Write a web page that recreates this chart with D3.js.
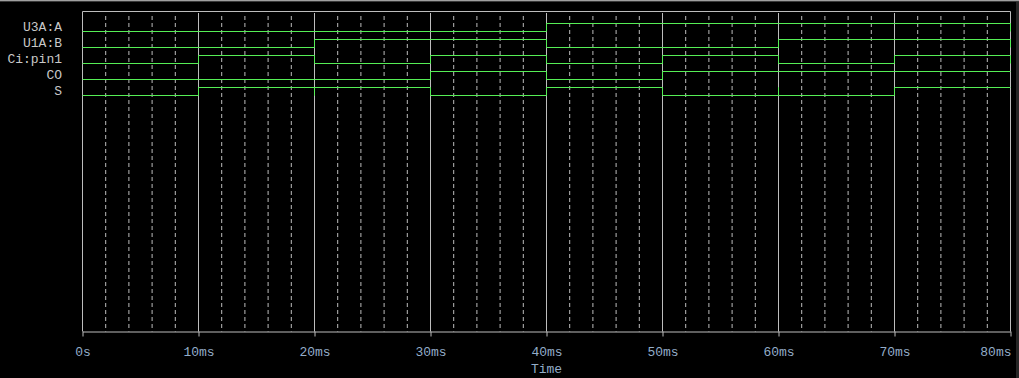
<!DOCTYPE html>
<html>
<head>
<meta charset="utf-8">
<script src="https://cdn.jsdelivr.net/npm/d3@7"></script>
<style>
  html, body { margin: 0; padding: 0; background: #000; }
  svg { display: block; }
</style>
</head>
<body>
<script>
/********************************************************/
// Signal names, transition times (ms) and logic levels
const signalNames = ["U3A:A", "U1A:B", "Ci:pin1", "CO", "S"];
const times = [0, 10, 20, 30, 40, 50, 60, 70, 80];
const sigA = [0, 0, 0, 0, 1, 1, 1, 1, 0];
const sigB = [0, 0, 1, 1, 0, 0, 1, 1, 0];
const sigCi = [0, 1, 0, 1, 0, 1, 0, 1, 0];
const sigCO = [0, 0, 0, 1, 0, 1, 1, 1, 1];
const sigS = [0, 1, 1, 0, 1, 0, 0, 1, 1];
// zero-width glitches: [signal, time, level]
const glitches = [["S", 20, 0], ["S", 60, 1]];
// axis ticks
const majorTicks = [0, 10, 20, 30, 40, 50, 60, 70, 80];
const majorLabels = ["0s", "10ms", "20ms", "30ms", "40ms", "50ms", "60ms", "70ms", "80ms"];
const minorTicks = [2, 4, 6, 8, 12, 14, 16, 18, 22, 24, 26, 28, 32, 34, 36, 38,
  42, 44, 46, 48, 52, 54, 56, 58, 62, 64, 66, 68, 72, 74, 76, 78];
/********************************************************/
const svgWidth = 1019;
const svgHeight = 378;

const plot = { left: 82.5, right: 1010.5, top: 11.5, bottom: 331.5 };
const rowTop = 31.5;
const rowBottom = 95.5;
const highStep = 8;

const gridColor = "#bdbdbd";
const traceColor = "#55ee55";
const font = "'Liberation Mono', 'Courier New', monospace";

const svg = d3.select("body").append("svg")
  .attr("width", svgWidth)
  .attr("height", svgHeight);

svg.append("rect").attr("width", svgWidth).attr("height", svgHeight).attr("fill", "#000");

// window frame bits
svg.append("rect").attr("x", 0).attr("y", 0).attr("width", svgWidth).attr("height", 1).attr("fill", "#a0a0a0");
svg.append("rect").attr("x", 0).attr("y", 1).attr("width", svgWidth).attr("height", 1).attr("fill", "#3a3a3a");
svg.append("rect").attr("x", 1016).attr("y", 2).attr("width", 3).attr("height", svgHeight).attr("fill", "#262626");

/********************************************************/
const x = d3.scaleLinear().domain([0, 80]).range([plot.left, plot.right]);
const rowY = d3.scalePoint().domain(signalNames).range([rowTop, rowBottom]);
const levelY = (name, v) => rowY(name) - v * highStep;

// plot frame (top + left)
svg.append("line")
  .attr("x1", plot.left).attr("x2", plot.right)
  .attr("y1", plot.top).attr("y2", plot.top)
  .attr("stroke", gridColor);
svg.append("line")
  .attr("x1", plot.left).attr("x2", plot.left)
  .attr("y1", plot.top).attr("y2", plot.bottom)
  .attr("stroke", gridColor);

// dashed minor grid
svg.append("g").selectAll("line")
  .data(minorTicks)
  .enter()
  .append("line")
  .attr("x1", (d) => x(d)).attr("x2", (d) => x(d))
  .attr("y1", 16).attr("y2", plot.bottom)
  .attr("stroke", gridColor)
  .attr("stroke-dasharray", "4,3");

// solid major grid
svg.append("g").selectAll("line")
  .data(majorTicks.slice(1))
  .enter()
  .append("line")
  .attr("x1", (d) => x(d)).attr("x2", (d) => x(d))
  .attr("y1", (d) => (d === 80 ? plot.top : 13))
  .attr("y2", plot.bottom)
  .attr("stroke", gridColor);

// bottom axis
const bottomAxis = d3.axisBottom(x)
  .tickValues(majorTicks)
  .tickFormat((d, i) => majorLabels[i])
  .tickSize(5)
  .tickSizeOuter(0)
  .tickPadding(10);

const axisG = svg.append("g")
  .attr("transform", `translate(0, ${plot.bottom})`)
  .call(bottomAxis);
axisG.select(".domain").attr("stroke", gridColor);
axisG.selectAll(".tick line").attr("stroke", gridColor);
axisG.selectAll(".tick text")
  .attr("fill", "#93adc9")
  .attr("font-family", font)
  .attr("font-size", "13px")
  .attr("text-anchor", (d) => (d === 80 ? "end" : "middle"))
  .attr("dx", (d) => (d === 80 ? "0.5" : "0"));

svg.append("text")
  .attr("x", x(40))
  .attr("y", 373)
  .attr("text-anchor", "middle")
  .attr("fill", "#93adc9")
  .attr("font-family", font)
  .attr("font-size", "13px")
  .text("Time");

/********************************************************/
// signal traces
const levels = { "U3A:A": sigA, "U1A:B": sigB, "Ci:pin1": sigCi, "CO": sigCO, "S": sigS };

function tracePoints(name) {
  const pts = [];
  times.forEach((t, i) => {
    const g = glitches.find((gl) => gl[0] === name && gl[1] === t);
    if (g) pts.push([t, g[2]]);
    pts.push([t, levels[name][i]]);
  });
  return pts;
}

const line = d3.line()
  .x((d) => x(d[0]))
  .curve(d3.curveStepAfter);

signalNames.forEach((name) => {
  svg.append("path")
    .datum(tracePoints(name))
    .attr("d", line.y((d) => levelY(name, d[1])))
    .attr("fill", "none")
    .attr("stroke", traceColor)
    .attr("stroke-width", 1);
});

// signal names
svg.append("g").selectAll("text")
  .data(signalNames)
  .enter()
  .append("text")
  .attr("x", 62)
  .attr("y", (d) => rowY(d) - 0.5)
  .attr("text-anchor", "end")
  .attr("fill", "#c8c8c8")
  .attr("font-family", font)
  .attr("font-size", "13px")
  .text((d) => d);
</script>
</body>
</html>
